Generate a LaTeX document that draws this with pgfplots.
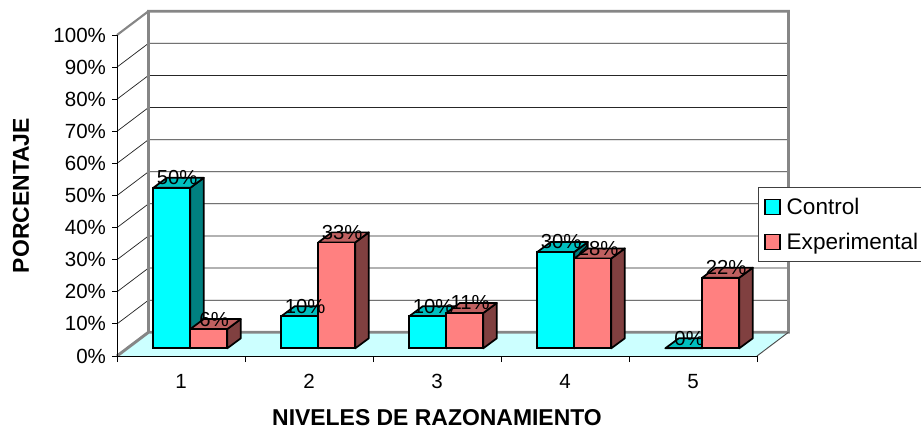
\documentclass[border=0pt]{standalone}
\usepackage{fontspec}
\setmainfont{Liberation Sans}
\usepackage{pgfplots}
\usepackage{pgfplotstable}
\pgfplotsset{compat=1.18}
\definecolor{cfront}{HTML}{00FFFF}
\definecolor{cside}{HTML}{008080}
\definecolor{ctop}{HTML}{00BFBF}
\definecolor{efront}{HTML}{FF8080}
\definecolor{eside}{HTML}{804040}
\definecolor{etop}{HTML}{BF6060}
\definecolor{floorc}{HTML}{CCFFFF}
\definecolor{wallc}{HTML}{868686}
\pgfplotstableread{
n control experimental
1 50 6
2 10 33
3 10 11
4 30 28
5 0 22
}\datatab
% one grid line: side wall, then back wall
\newcommand{\gl}[2]{\addplot[black!85,line width=0.55pt,forget plot] coordinates {(0.5,#1) (0.746,#2) (5.746,#2)};}
% top and side faces of one box
\newcommand{\cube}[4]{%
  \pgfmathsetmacro{\xa}{#1}\pgfmathsetmacro{\xb}{#1+0.289}%
  \pgfmathsetmacro{\xc}{#1+0.289+0.1055}\pgfmathsetmacro{\xd}{#1+0.1055}%
  \pgfmathsetmacro{\ya}{#2}\pgfmathsetmacro{\yb}{#2+3.115}%
  \addplot[fill=#3,draw=black,line width=1.3pt,line join=round,forget plot] coordinates {(\xb,0) (\xc,3.115) (\xc,\yb) (\xb,\ya)} --cycle;
  \addplot[fill=#4,draw=black,line width=1.3pt,line join=round,forget plot] coordinates {(\xa,\ya) (\xb,\ya) (\xc,\yb) (\xd,\yb)} --cycle;
}
\begin{document}
\begin{tikzpicture}
\path[use as bounding box] (0,0) rectangle (690.75pt,321.75pt);
% frame: front axis, walls, floor
\begin{axis}[
  at={(87.75pt,54.75pt)},anchor=south west,
  scale only axis,width=480pt,height=240.75pt,
  xmin=0.5,xmax=5.5,ymin=0,ymax=100,clip=false,
  axis lines=left,axis line style={-,line width=0.7pt},
  axis on top=true,
  xtick={1,2,3,4,5},
  minor xtick={0.5,1.5,2.5,3.5,4.5,5.5},
  ytick={0,10,...,100},
  tick align=outside,
  major tick length=3.75pt,
  minor tick length=4.5pt,
  xtick style={draw=none},
  minor x tick style={draw=black,line width=0.7pt},
  y tick style={draw=black,line width=0.7pt},
  /pgf/number format/assume math mode=true,
  tick label style={font=\fontsize{15.4}{18}\selectfont},
  yticklabel={\pgfmathprintnumber{\tick}\%},
  yticklabel style={xshift=-1pt},
  xticklabel style={yshift=-6.5pt},
  xlabel={NIVELES DE RAZONAMIENTO},
  ylabel={PORCENTAJE},
  label style={font=\fontsize{17.2}{20}\selectfont\bfseries,inner sep=0pt},
  xlabel style={at={(axis description cs:0.5,0)},anchor=center,yshift=-46.5pt},
  ylabel style={at={(axis description cs:0,0.5)},anchor=center,yshift=72pt},
]
\addplot[fill=floorc,draw=none,forget plot] coordinates {(0.5,0) (0.746,7.4) (5.746,7.4) (5.5,0)} --cycle;
\gl{10}{17.4}\gl{20}{27.4}\gl{30}{37.4}\gl{40}{47.4}\gl{50}{57.4}
\gl{60}{67.4}\gl{70}{77.4}\gl{80}{87.4}\gl{90}{97.4}
\addplot[wallc,line width=2.2pt,line join=miter,forget plot] coordinates {(0.5,0) (0.746,7.4) (5.746,7.4) (5.746,107.4) (0.746,107.4) (0.746,7.4)};
\addplot[wallc,line width=1.6pt,forget plot] coordinates {(0.5,100) (0.746,107.4)};
\addplot[black!70,line width=0.7pt,forget plot] coordinates {(5.5,0) (5.746,7.4)};
\end{axis}
% boxes, on the plane where the bars stand
\begin{axis}[
  at={(94.725pt,60.525pt)},anchor=south west,
  scale only axis,width=480pt,height=240.75pt,
  xmin=0.5,xmax=5.5,ymin=0,ymax=100,clip=false,
  hide axis,
  /pgf/number format/assume math mode=true,
  legend cell align=left,
  legend style={at={(0.9875,0.5016)},anchor=north west,draw=black!75,line width=0.6pt,
    fill=white,font=\fontsize{16.9}{20}\selectfont,
    inner xsep=4pt,inner ysep=5.5pt,row sep=8.5pt,
    /tikz/every odd column/.append style={column sep=2.5pt}},
  legend image code/.code={\draw[#1,line width=1.1pt] (0pt,-5.6pt) rectangle (11.4pt,5.6pt);},
]
\cube{0.711}{50}{cside}{ctop}
\cube{1.711}{10}{cside}{ctop}
\cube{2.711}{10}{cside}{ctop}
\cube{3.711}{30}{cside}{ctop}
\cube{4.711}{0}{cside}{ctop}
\addplot[ybar,bar width=27.75pt,bar shift=-13.875pt,fill=cfront,draw=black,line width=1.3pt] table[x=n,y=control]{\datatab};
\addlegendentry{Control}
\cube{1}{6}{eside}{etop}
\cube{2}{33}{eside}{etop}
\cube{3}{11}{eside}{etop}
\cube{4}{28}{eside}{etop}
\cube{5}{22}{eside}{etop}
\addplot[ybar,bar width=27.75pt,bar shift=13.875pt,fill=efront,draw=black,line width=1.3pt] table[x=n,y=experimental]{\datatab};
\addlegendentry{Experimental}
\addplot[draw=none,mark=none,forget plot,point meta=y,
  nodes near coords={\pgfmathprintnumber{\pgfplotspointmeta}\%},
  every node near coord/.append style={anchor=center,inner sep=0pt,text=black,xshift=4pt,yshift=7.5pt,font=\fontsize{15.2}{17}\selectfont}]
  table[x expr=\thisrow{n}-0.1445,y=control]{\datatab};
\addplot[draw=none,mark=none,forget plot,point meta=y,
  nodes near coords={\pgfmathprintnumber{\pgfplotspointmeta}\%},
  every node near coord/.append style={anchor=center,inner sep=0pt,text=black,xshift=4pt,yshift=7.5pt,font=\fontsize{15.2}{17}\selectfont}]
  table[x expr=\thisrow{n}+0.1445,y=experimental]{\datatab};
\end{axis}
\end{tikzpicture}
\end{document}
